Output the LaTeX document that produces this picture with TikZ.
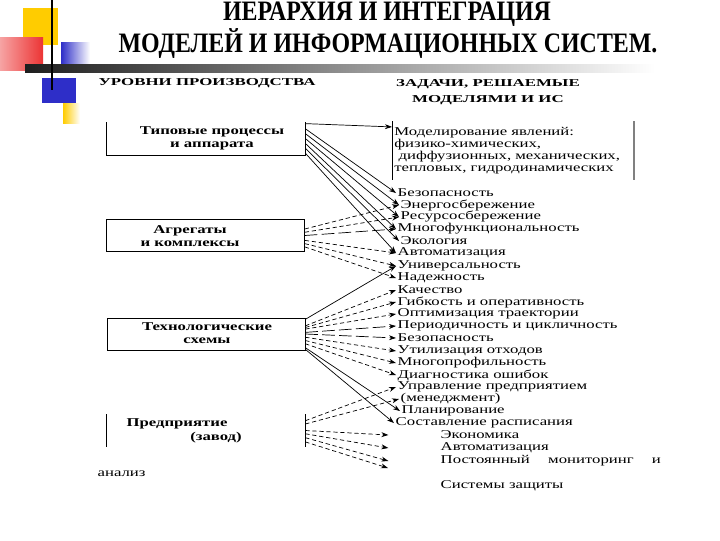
\documentclass[tikz,border=0pt]{standalone}
\usepackage{fontspec}
\setmainfont{Liberation Serif}
\newfontfamily\titlefont[FakeStretch=0.85]{Liberation Serif}
\newfontfamily\itemfont[FakeStretch=1.4]{Liberation Serif}
\newfontfamily\headfont[FakeStretch=1.6]{Liberation Serif}
\usetikzlibrary{arrows.meta, calc}
\definecolor{tileYellow}{HTML}{FFCC00}
\definecolor{tileRed}{HTML}{EC3434}
\definecolor{tileBlue}{HTML}{2E2EC8}
\definecolor{barDark}{HTML}{1E1E1E}

\begin{document}
\begin{tikzpicture}[x=0.025cm, y=-0.025cm,
        every node/.style={inner sep=1pt},
        ttl/.style={font=\titlefont\bfseries\fontsize{20}{22}\selectfont},
        hdr/.style={font=\headfont\bfseries\fontsize{7.5}{11}\selectfont, align=center},
        lvl/.style={minimum width=4.95cm, minimum height=0.8cm, inner sep=0pt},
        lbl/.style={font=\itemfont\bfseries\fontsize{8.5}{9.2}\selectfont, align=center},
        itm/.style={anchor=west, font=\itemfont\fontsize{8.5}{8.5}\selectfont},
        arr/.style={-{Stealth[length=5pt,width=3.5pt]}, line width=0.5pt},
        dsh/.style={arr, dash pattern=on 3pt off 2pt},
        ldsh/.style={arr, dash pattern=on 9pt off 3pt}]
  \useasboundingbox[fill=white] (0,0) rectangle (720,540);

  \fill[tileYellow] (23,8) rectangle (58,45);
  \shade[left color=tileRed!45, right color=tileRed] (0,37) rectangle (43,70);
  \shade[left color=tileBlue, right color=white] (61,42) rectangle (90,65);
  \shade[left color=barDark, right color=white] (25,64) rectangle (655,72);
  \fill[tileBlue] (42,78) rectangle (76,103);
  \shade[left color=tileYellow, right color=white] (63,103) rectangle (80,123);
  \draw[line width=2pt] (52,0) -- (52,90);

  \node[ttl] (ttl1) at (387,14) {ИЕРАРХИЯ И ИНТЕГРАЦИЯ};
  \node[ttl] (ttl2) at (388,43.5) {МОДЕЛЕЙ И ИНФОРМАЦИОННЫХ СИСТЕМ.};

  \node[hdr] (hl) at (207,83) {УРОВНИ ПРОИЗВОДСТВА};
  \node[hdr] (hr) at (488,92) {ЗАДАЧИ, РЕШАЕМЫЕ\\МОДЕЛЯМИ И ИС};

  \node[lvl] (b1) at (206,138.5) {};
  \draw (b1.north west) -- (b1.south west) -- (b1.south east) -- (b1.north east);
  \node[lbl] (b1t) at (212,138) {Типовые процессы\\и аппарата};
  \node[lvl, draw] (b2) at (205.5,235.5) {};
  \node[lbl] (b2t) at (190,236) {Агрегаты\\и комплексы};
  \node[lvl, draw] (b3) at (206,334) {};
  \node[lbl] (b3t) at (207,333) {Технологические\\схемы};
  \node[lvl] (b4) at (206,430.5) {};
  \draw (b4.north west) -- (b4.south west);
  \draw (b4.north east) -- (b4.south east);
  \node[lbl] (b4a) at (177,424) {Предприятие};
  \node[lbl] (b4b) at (216,438) {(завод)};
  \node[itm] (anl) at (96,474) {анализ};

  \node[itm, align=left, inner xsep=1.5pt, inner ysep=4pt] (mod) at (392,150.5)
    {Моделирование явлений:\\физико-химических,\\\ диффузионных, механических,\\тепловых, гидродинамических};
  \draw (mod.north west) -- (mod.south west);
  \draw[gray, line width=1.5pt] ($(mod.north east)+(12,0)$) -- ($(mod.south east)+(12,0)$);

  \node[itm] (t1) at (396,193) {Безопасность};
  \node[itm] (t2) at (399,205) {Энергосбережение};
  \node[itm] (t3) at (399,217) {Ресурсосбережение};
  \node[itm] (t4) at (396,229) {Многофункциональность};
  \node[itm] (t5) at (399,241) {Экология};
  \node[itm] (t6) at (396,253) {Автоматизация};
  \node[itm] (t7) at (396,266) {Универсальность};
  \node[itm] (t8) at (396,278) {Надежность};
  \node[itm] (t9) at (396,290) {Качество};
  \node[itm] (t10) at (396,302) {Гибкость и оперативность};
  \node[itm] (t11) at (396,314) {Оптимизация траектории};
  \node[itm] (t12) at (396,326) {Периодичность и цикличность};
  \node[itm] (t13) at (396,338) {Безопасность};
  \node[itm] (t14) at (396,351) {Утилизация отходов};
  \node[itm] (t15) at (396,363) {Многопрофильность};
  \node[itm] (t16) at (396,375) {Диагностика ошибок};
  \node[itm] (t17) at (396,387) {Управление предприятием};
  \node[itm] (t18) at (399,399) {(менеджмент)};
  \node[itm] (t19) at (400,411) {Планирование};
  \node[itm] (t20) at (394,423) {Составление расписания};
  \node[itm] (t21) at (439,435) {Экономика};
  \node[itm] (t22) at (439,448) {Автоматизация};
  \node[itm] (t23) at (439,461) {Постоянный\hspace{13pt}мониторинг\hspace{13pt}и};
  \node[itm] (t24) at (439,486) {Системы защиты};
  \coordinate (e4) at (388,468);

  \draw[arr] ([yshift=-1pt]b1.north east) -- ([yshift=-4pt]mod.north west);
  \draw[arr] ($(b1.north east)!.2!(b1.south east)$) -- (t1.west);
  \draw[arr] ($(b1.north east)!.35!(b1.south east)$) -- (t2.west);
  \draw[arr] ($(b1.north east)!.5!(b1.south east)$) -- (t3.west);
  \draw[arr] ($(b1.north east)!.65!(b1.south east)$) -- (t4.west);
  \draw[arr] ($(b1.north east)!.8!(b1.south east)$) -- (t5.west);
  \draw[arr] ($(b1.north east)!.95!(b1.south east)$) -- (t6.west);

  \draw[dsh] ($(b2.north east)!.3!(b2.south east)$) -- (t2.west);
  \draw[dsh] ($(b2.north east)!.4!(b2.south east)$) -- (t3.west);
  \draw[ldsh] ($(b2.north east)!.5!(b2.south east)$) -- (t4.west);
  \draw[dsh] ($(b2.north east)!.65!(b2.south east)$) -- (t6.west);
  \draw[dsh] ($(b2.north east)!.75!(b2.south east)$) -- (t7.west);
  \draw[dsh] ($(b2.north east)!.85!(b2.south east)$) -- (t8.west);

  \draw[arr] ($(b3.north east)!.05!(b3.south east)$) -- (t7.west);
  \draw[dsh] ($(b3.north east)!.25!(b3.south east)$) -- (t9.west);
  \draw[dsh] ($(b3.north east)!.3!(b3.south east)$) -- (t10.west);
  \draw[dsh] ($(b3.north east)!.35!(b3.south east)$) -- (t11.west);
  \draw[ldsh] ($(b3.north east)!.45!(b3.south east)$) -- (t12.west);
  \draw[ldsh] ($(b3.north east)!.5!(b3.south east)$) -- (t13.west);
  \draw[dsh] ($(b3.north east)!.6!(b3.south east)$) -- (t14.west);
  \draw[dsh] ($(b3.north east)!.7!(b3.south east)$) -- (t15.west);
  \draw[dsh] ($(b3.north east)!.8!(b3.south east)$) -- (t16.west);
  \draw[arr] ($(b3.north east)!.92!(b3.south east)$) -- (t19.west);
  \draw[arr] ($(b3.north east)!.97!(b3.south east)$) -- (t20.west);

  \draw[dsh] ($(b4.north east)!.2!(b4.south east)$) -- (t17.west);
  \draw[dsh] ($(b4.north east)!.3!(b4.south east)$) -- (t18.west);
  \draw[dsh] ($(b4.north east)!.5!(b4.south east)$) -- ([xshift=-36pt]t21.west);
  \draw[dsh] ($(b4.north east)!.6!(b4.south east)$) -- ([xshift=-36pt]t22.west);
  \draw[dsh] ($(b4.north east)!.72!(b4.south east)$) -- ([xshift=-36pt]t23.west);
  \draw[dsh] ($(b4.north east)!.85!(b4.south east)$) -- (e4);
\end{tikzpicture}
\end{document}
